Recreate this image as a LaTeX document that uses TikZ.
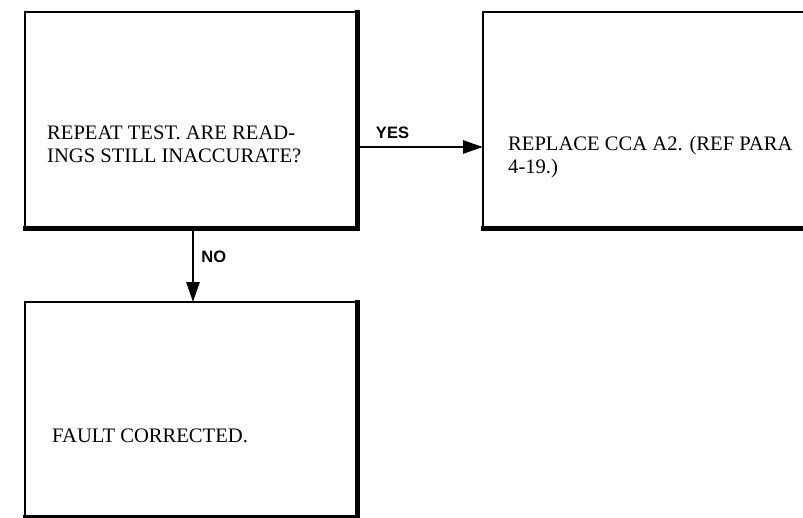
\documentclass[tikz,border=0pt]{standalone}
\usepackage{fontspec}
\setmainfont{Liberation Serif}
\setsansfont{Liberation Sans}
\usetikzlibrary{arrows.meta,positioning}

\begin{document}
\begin{tikzpicture}[x=1pt, y=1pt, node distance=74pt and 126pt]
\tikzset{box/.style={draw, line width=1.8pt, outer sep=0pt, minimum width=332pt, minimum height=216pt}}
\tikzset{edge/.style={line width=5pt, line cap=rect}}
\tikzset{txt/.style={inner sep=0pt, align=left, font=\fontsize{20.6}{22.5}\selectfont}}
\tikzset{lbl/.style={inner sep=0pt, font=\sffamily\bfseries\fontsize{16.5}{18}\selectfont}}
\tikzset{arrow/.style={-{Triangle[length=20pt, width=13pt]}, line width=2.7pt}}
\useasboundingbox (0,0) rectangle (803,-517);
\clip (0,0) rectangle (803,-517);
\node[box] (test) at (191,-120) {};
\node[box, right=of test, minimum width=360pt] (repl) {};
\node[box, below=of test, minimum height=215pt] (done) {};
\draw[edge] (test.south west) -- (test.south east) -- (test.north east);
\draw[edge] (repl.south west) -- (repl.south east) -- (repl.north east);
\draw[edge] (done.south west) -- (done.south east) -- (done.north east);
\node[txt, anchor=base west] (testtxt) at (47,-162) {REPEAT TEST. ARE READ-\\INGS STILL INACCURATE?};
\node[txt, anchor=base west] (repltxt) at (508,-173) {REPLACE CCA A2. (REF PARA\\4-19.)};
\node[txt, anchor=base west] (donetxt) at (52,-442) {FAULT CORRECTED.};
\draw[arrow] ([yshift=-27pt]test.east) -- ([yshift=-27pt]test.east -| repl.west)
  node[lbl, pos=0.14, anchor=base west, yshift=9pt] (yes) {YES};
\draw[arrow] ([xshift=2pt]test.south) -- ([xshift=2pt]done.north)
  node[lbl, pos=0.46, anchor=base west, xshift=7pt] (no) {NO};
\end{tikzpicture}
\end{document}
